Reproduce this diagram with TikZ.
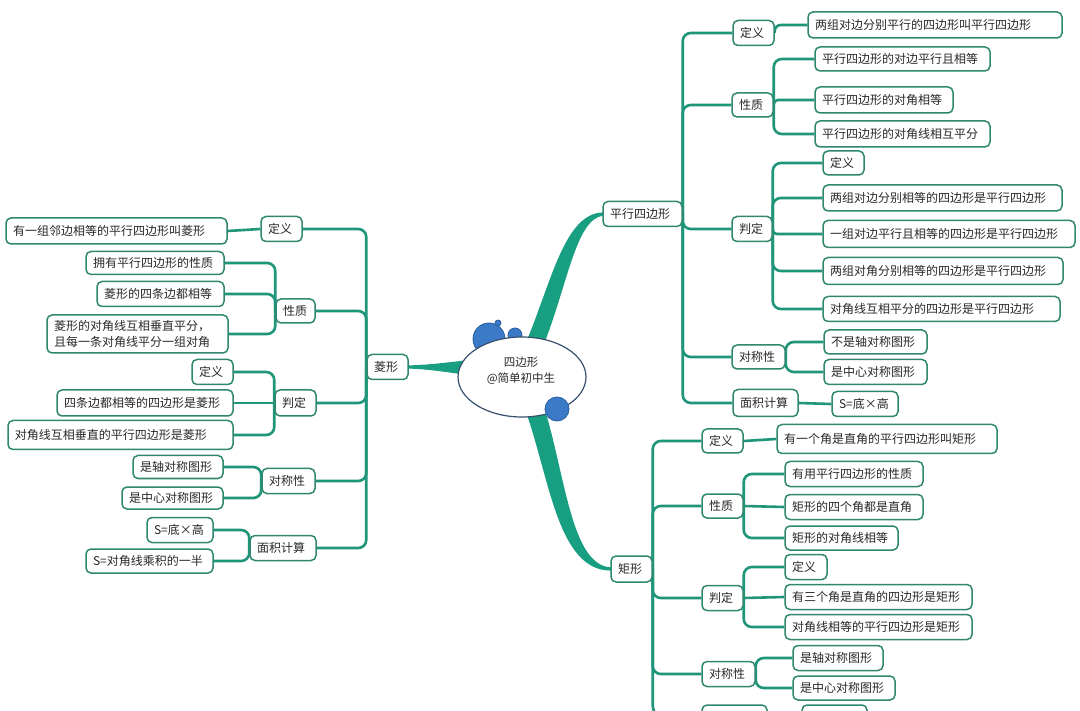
\documentclass[tikz,border=0pt]{standalone}
\usepackage{fontspec}
\setmainfont{Noto Sans CJK SC}
\usetikzlibrary{shapes.geometric,backgrounds,calc}
\definecolor{conn}{RGB}{31,150,122}
\definecolor{bord}{RGB}{48,135,112}
\definecolor{branch}{RGB}{24,158,128}
\definecolor{bub}{RGB}{58,122,198}
\definecolor{bubd}{RGB}{40,95,160}
\definecolor{ell}{RGB}{55,80,110}
\definecolor{txt}{RGB}{40,40,40}
\tikzset{
 box/.style={draw=bord, line width=1.5pt, rounded corners=5pt, fill=white, inner xsep=7pt, inner ysep=0pt, align=left, text=txt, font=\fontsize{12}{16}\selectfont},
 cn/.style={draw=conn, line width=2.6pt, rounded corners=8pt},
 bubble/.style={fill=bub, draw=bubd, line width=0.8pt},
}
\newcommand\bx[6]{\node[box, text width=#4pt, minimum height=#5pt] (#1) at (#2,#3) {#6};}
\begin{document}
\begin{tikzpicture}[x=1pt,y=-1pt]
\useasboundingbox (0,0) rectangle (1080,711);
\clip (0,0) rectangle (1080,711);
% root
\node[draw=ell, fill=white, ellipse, minimum width=128pt, minimum height=80pt, line width=1.2pt, inner sep=0pt] (root) at (522,377) {};
\node[align=center, text=txt, font=\fontsize{11.5}{16}\selectfont] (rtxt) at (521,371) {四边形\\@简单初中生};
\fill[bubble] (557,409) circle (12);
% level 1
\bx{pa}{642.5}{214}{65}{25}{平行四边形}
\bx{ju}{631.5}{569}{27}{26}{矩形}
\bx{li}{387.5}{367}{27}{25}{菱形}
% parallelogram
\bx{pa1}{753.5}{33}{27}{25}{定义}
\bx{pa1a}{935}{25}{240}{26}{两组对边分别平行的四边形叫平行四边形}
\bx{pa2}{752.5}{105}{27}{24}{性质}
\bx{pa2a}{902.5}{59}{161}{24}{平行四边形的对边平行且相等}
\bx{pa2b}{884}{100}{124}{26}{平行四边形的对角相等}
\bx{pa2c}{902.5}{134}{161}{26}{平行四边形的对角线相互平分}
\bx{pa3}{752}{229}{26}{25}{判定}
\bx{pa3a}{843.5}{163}{27}{24}{定义}
\bx{pa3b}{942.5}{198}{225}{26}{两组对边分别相等的四边形是平行四边形}
\bx{pa3c}{949}{234}{238}{27}{一组对边平行且相等的四边形是平行四边形}
\bx{pa3d}{943}{271}{226}{27}{两组对角分别相等的四边形是平行四边形}
\bx{pa3e}{941.5}{309}{223}{25}{对角线互相平分的四边形是平行四边形}
\bx{pa4}{758.5}{357}{39}{24}{对称性}
\bx{pa4a}{875.5}{342}{89}{24}{不是轴对称图形}
\bx{pa4b}{875.5}{372}{89}{25}{是中心对称图形}
\bx{pa5}{765.5}{403}{51}{27}{面积计算}
\bx{pa5a}{865}{404}{52}{25}{S=底×高}
% rectangle
\bx{ju1}{722.5}{441}{27}{24}{定义}
\bx{ju1a}{887}{439}{206}{29}{有一个角是直角的平行四边形叫矩形}
\bx{ju2}{722.5}{506}{27}{24}{性质}
\bx{ju2a}{854}{474}{124}{25}{有用平行四边形的性质}
\bx{ju2b}{854}{507}{124}{25}{矩形的四个角都是直角}
\bx{ju2c}{841.5}{538}{99}{24}{矩形的对角线相等}
\bx{ju3}{722.5}{598}{27}{25}{判定}
\bx{ju3a}{806}{567}{28}{25}{定义}
\bx{ju3b}{878.5}{597}{173}{25}{有三个角是直角的四边形是矩形}
\bx{ju3c}{878.5}{627}{173}{25}{对角线相等的平行四边形是矩形}
\bx{ju4}{728.5}{674}{39}{25}{对称性}
\bx{ju4a}{838}{658}{76}{25}{是轴对称图形}
\bx{ju4b}{844}{688}{88}{24}{是中心对称图形}
\node[box, minimum width=65pt, minimum height=26pt] (ju5) at (734.5,718) {};
\node[box, minimum width=65pt, minimum height=26pt] (ju5a) at (834.5,718) {};
% rhombus
\bx{li1}{281.5}{229}{27}{25}{定义}
\bx{li1a}{116.5}{231}{207}{26}{有一组邻边相等的平行四边形叫菱形}
\bx{li2}{295.5}{311}{25}{24}{性质}
\bx{li2a}{155}{263}{124}{23}{拥有平行四边形的性质}
\bx{li2b}{160.5}{294}{113}{25}{菱形的四条边都相等}
\bx{li2c}{137.5}{334}{167}{38}{菱形的对角线互相垂直平分，\\且每一条对角线平分一组对角}
\bx{li3}{295.5}{403}{27}{26}{判定}
\bx{li3a}{212.5}{372}{27}{25}{定义}
\bx{li3b}{145}{403}{162}{26}{四条边都相等的四边形是菱形}
\bx{li3c}{120.5}{435}{211}{29}{对角线互相垂直的平行四边形是菱形}
\bx{li4}{288.5}{481}{39}{25}{对称性}
\bx{li4a}{178}{467}{76}{23}{是轴对称图形}
\bx{li4b}{172.5}{498}{87}{22}{是中心对称图形}
\bx{li5}{283}{548}{52}{25}{面积计算}
\bx{li5a}{180}{530}{52}{25}{S=底×高}
\bx{li5b}{149.5}{561}{113}{24}{S=对角线乘积的一半}
\begin{pgfonlayer}{background}
\fill[white] (0,0) rectangle (1080,711);
% tapered branches
\fill[branch] (527,340) .. controls (552,280) and (565,213) .. ($(pa.west)+(1,-1.6)$) -- ($(pa.west)+(1,1.6)$) .. controls (576,219) and (568,283) .. (544,344) -- cycle;
\fill[branch] (526,412) .. controls (550,480) and (558,571) .. ($(ju.west)+(1,1.6)$) -- ($(ju.west)+(1,-1.6)$) .. controls (572,566) and (566,480) .. (545,410) -- cycle;
\fill[branch] ($(li.east)+(-1,-1.6)$) .. controls (430,365) and (450,362) .. (470,360) -- (470,375) .. controls (450,373) and (430,369) .. ($(li.east)+(-1,1.6)$) -- cycle;
\fill[bubble] (489,339) circle (16);
\fill[bubble] (515,335) circle (7);
\fill[bubble] (498,323) circle (3);
% parallelogram connectors
\draw[cn] (pa.east) |- (pa1.west);
\draw[cn] (pa.east) |- (pa2.west);
\draw[cn] (pa.east) |- (pa3.west);
\draw[cn] (pa.east) |- (pa4.west);
\draw[cn] (pa.east) |- (pa5.west);
\draw[cn, rounded corners=6pt] (pa1.east) |- (pa1a.west);
\draw[cn] (pa2.east) |- (pa2a.west);
\draw[cn, rounded corners=4pt] (pa2.east) |- (pa2b.west);
\draw[cn] (pa2.east) |- (pa2c.west);
\draw[cn] (pa3.east) |- (pa3a.west);
\draw[cn] (pa3.east) |- (pa3b.west);
\draw[cn, rounded corners=4pt] (pa3.east) |- (pa3c.west);
\draw[cn] (pa3.east) |- (pa3d.west);
\draw[cn] (pa3.east) |- (pa3e.west);
\draw[cn] (pa4.east) |- (pa4a.west);
\draw[cn] (pa4.east) |- (pa4b.west);
\draw[cn] (pa5.east) -- (pa5a.west);
% rectangle connectors
\draw[cn] (ju.east) |- (ju1.west);
\draw[cn] (ju.east) |- (ju2.west);
\draw[cn] (ju.east) |- (ju3.west);
\draw[cn] (ju.east) |- (ju4.west);
\draw[cn, rounded corners=12pt] (ju.east) |- (ju5.west);
\draw[cn] (ju1.east) -- (ju1a.west);
\draw[cn] (ju2.east) |- (ju2a.west);
\draw[cn] (ju2.east) -- (ju2b.west);
\draw[cn] (ju2.east) |- (ju2c.west);
\draw[cn] (ju3.east) |- (ju3a.west);
\draw[cn] (ju3.east) -- (ju3b.west);
\draw[cn] (ju3.east) |- (ju3c.west);
\draw[cn] (ju4.east) |- (ju4a.west);
\draw[cn] (ju4.east) |- (ju4b.west);
\draw[cn] (ju5.east) -- (ju5a.west);
% rhombus connectors
\draw[cn] (li.west) |- (li1.east);
\draw[cn] (li.west) |- (li2.east);
\draw[cn] (li.west) |- (li3.east);
\draw[cn] (li.west) |- (li4.east);
\draw[cn] (li.west) |- (li5.east);
\draw[cn] (li1.west) -- (li1a.east);
\draw[cn] (li2.west) |- (li2a.east);
\draw[cn] (li2.west) |- (li2b.east);
\draw[cn] (li2.west) |- (li2c.east);
\draw[cn] (li3.west) |- (li3a.east);
\draw[cn] (li3.west) -- (li3b.east);
\draw[cn] (li3.west) |- (li3c.east);
\draw[cn] (li4.west) |- (li4a.east);
\draw[cn] (li4.west) |- (li4b.east);
\draw[cn] (li5.west) |- (li5a.east);
\draw[cn] (li5.west) |- (li5b.east);
\end{pgfonlayer}
\end{tikzpicture}
\end{document}
